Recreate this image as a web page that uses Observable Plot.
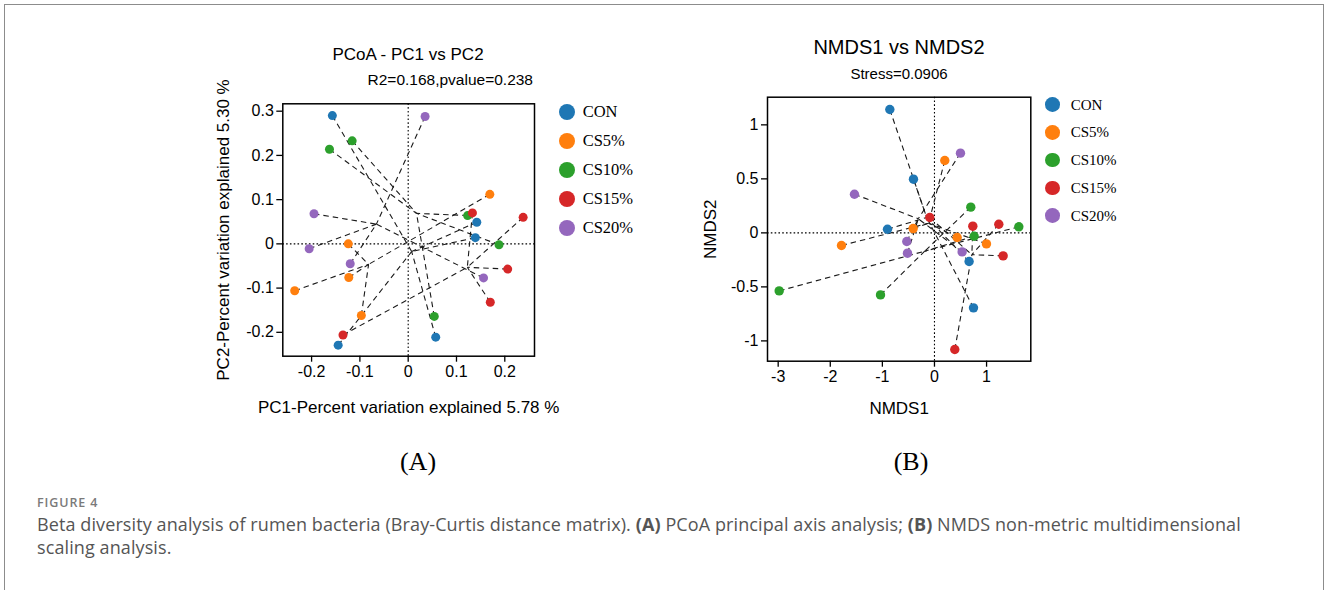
<!DOCTYPE html>
<html>
<head>
<meta charset="utf-8">
<script src="https://cdn.jsdelivr.net/npm/d3@7"></script>
<script src="https://cdn.jsdelivr.net/npm/@observablehq/plot@0.6"></script>
<style>
  html, body { margin: 0; padding: 0; background: #fff; width: 1328px; height: 590px; overflow: hidden; }
  .abs { position: absolute; white-space: nowrap; line-height: 1; }
  .c { transform: translate(-50%, -50%); }
  .sans { font-family: "Liberation Sans", Arial, sans-serif; color: #000; }
  .serif { font-family: "Liberation Serif", "Times New Roman", serif; color: #000; }
  #frameBox { position: absolute; left: 4px; top: 4px; width: 1320px; height: 800px; border: 1.5px solid #8c8c8c; box-sizing: border-box; }
  .cap { font-family: "Open Sans", "Noto Sans", sans-serif; }
</style>
</head>
<body>
<div id="frameBox"></div>
<div id="root"></div>
<script>
// ---------- data ----------
const groups = ["CON", "CS5%", "CS10%", "CS15%", "CS20%"];
const groupColors = ["#1f77b4", "#ff7f0e", "#2ca02c", "#d62728", "#9467bd"];

// PCoA (panel A)
const pcoaGroup = [
  "CON", "CON", "CON", "CON", "CON",
  "CS5%", "CS5%", "CS5%", "CS5%", "CS5%",
  "CS10%", "CS10%", "CS10%", "CS10%", "CS10%",
  "CS15%", "CS15%", "CS15%", "CS15%", "CS15%",
  "CS20%", "CS20%", "CS20%", "CS20%", "CS20%"
];
const pcoaPC1 = [
  -0.157, -0.145, 0.057, 0.142, 0.139,
  0.169, -0.124, -0.123, -0.235, -0.097,
  -0.116, -0.163, 0.123, 0.188, 0.054,
  0.133, 0.238, 0.206, 0.170, -0.135,
  0.035, -0.195, -0.205, -0.120, 0.156
];
const pcoaPC2 = [
  0.290, -0.229, -0.211, 0.049, 0.014,
  0.112, 0.000, -0.076, -0.106, -0.162,
  0.233, 0.214, 0.064, -0.002, -0.164,
  0.070, 0.060, -0.057, -0.132, -0.206,
  0.288, 0.068, -0.011, -0.045, -0.077
];
const pcoaXTicks = [-0.2, -0.1, 0, 0.1, 0.2];
const pcoaYTicks = [-0.2, -0.1, 0, 0.1, 0.2, 0.3];

// NMDS (panel B)
const nmdsGroup = pcoaGroup.slice();
const nmds1 = [
  -0.857, -0.403, -0.902, 0.665, 0.749,
  0.198, -0.409, -1.785, 0.435, 0.998,
  0.697, 1.619, 0.761, -1.036, -2.981,
  -0.090, 0.736, 1.235, 1.318, 0.390,
  0.499, -1.536, -0.531, -0.518, 0.531
];
const nmds2 = [
  1.142, 0.497, 0.034, -0.265, -0.694,
  0.670, 0.040, -0.117, -0.043, -0.102,
  0.238, 0.056, -0.031, -0.574, -0.537,
  0.142, 0.062, 0.080, -0.213, -1.080,
  0.738, 0.358, -0.080, -0.188, -0.176
];
const nmdsXTicks = [-3, -2, -1, 0, 1];
const nmdsYTicks = [-1, -0.5, 0, 0.5, 1];

// ---------- helpers ----------
function buildTable(gs, xs, ys) {
  const rows = gs.map((g, i) => ({ group: g, x: xs[i], y: ys[i] }));
  const cent = new Map(groups.map(g => {
    const sub = rows.filter(r => r.group === g);
    return [g, { cx: d3.mean(sub, r => r.x), cy: d3.mean(sub, r => r.y) }];
  }));
  rows.forEach(r => { r.cx = cent.get(r.group).cx; r.cy = cent.get(r.group).cy; });
  return rows;
}

function panel(o) {
  const data = buildTable(o.g, o.xs, o.ys);
  const fmt = d => String(d);
  return Plot.plot({
    width: o.width, height: o.height,
    marginLeft: o.ml, marginRight: o.mr, marginTop: o.mt, marginBottom: o.mb,
    x: { domain: o.xDomain, label: null },
    y: { domain: o.yDomain, label: null },
    color: { domain: groups, range: groupColors },
    style: { fontFamily: "'Liberation Sans', Arial, sans-serif", fontSize: "16px", color: "#000", background: "transparent" },
    marks: [
      Plot.ruleX([0], { stroke: "#000", strokeWidth: 1.1, strokeDasharray: "1.6,2.2" }),
      Plot.ruleY([0], { stroke: "#000", strokeWidth: 1.1, strokeDasharray: "1.6,2.2" }),
      Plot.link(data, { x1: "x", y1: "y", x2: "cx", y2: "cy", stroke: "#1a1a1a", strokeWidth: 1.1, strokeDasharray: "5.5,4" }),
      Plot.dot(data, { x: "x", y: "y", r: o.r, fill: "group", stroke: "none" }),
      Plot.frame({ stroke: "#000", strokeWidth: 1.5 }),
      Plot.axisX({ ticks: o.xTicks, tickFormat: fmt, tickSize: 6, tickPadding: 3, label: null, fontSize: 16, strokeWidth: 1.3 }),
      Plot.axisY({ ticks: o.yTicks, tickFormat: fmt, tickSize: 6, tickPadding: 3, label: null, fontSize: 16, strokeWidth: 1.3 }),
      Plot.text([o.xLabel], { text: d => d, frameAnchor: "bottom", dy: o.xLabelDy, textAnchor: "middle", lineAnchor: "middle", fontSize: 17, fill: "#000" }),
      Plot.text([o.yLabel], { text: d => d, frameAnchor: "left", dx: o.yLabelDx, rotate: -90, textAnchor: "middle", lineAnchor: "middle", fontSize: 17, fill: "#000" })
    ]
  });
}

const root = document.getElementById("root");
function place(el, left, top) {
  el.style.position = "absolute"; el.style.left = left + "px"; el.style.top = top + "px";
  root.appendChild(el);
}
function label(txt, x, y, cls, size, extra) {
  const d = document.createElement("div");
  d.className = "abs " + cls;
  d.textContent = txt;
  d.style.left = x + "px"; d.style.top = y + "px"; d.style.fontSize = size + "px";
  if (extra) Object.assign(d.style, extra);
  root.appendChild(d);
  return d;
}
function legend(cx, cy0, step, r, tx, size) {
  groups.forEach((g, i) => {
    const c = document.createElement("div");
    c.className = "abs";
    Object.assign(c.style, { left: (cx - r) + "px", top: (cy0 + i * step - r) + "px", width: 2 * r + "px", height: 2 * r + "px", borderRadius: "50%", background: groupColors[i] });
    root.appendChild(c);
    label(g, tx, cy0 + i * step, "serif", size, { transform: "translateY(-50%)" });
  });
}

// ---------- panel A ----------
const svgA = panel({
  g: pcoaGroup, xs: pcoaPC1, ys: pcoaPC2,
  width: 385, height: 350, ml: 87.3, mr: 46, mt: 33.3, mb: 64.3,
  xDomain: [-0.2596, 0.2615], yDomain: [-0.254, 0.3167],
  xTicks: pcoaXTicks, yTicks: pcoaYTicks, r: 4.5,
  xLabel: "PC1-Percent variation explained 5.78 %", xLabelDy: 51,
  yLabel: "PC2-Percent variation explained 5.30 %", yLabelDx: -59
});
place(svgA, 195, 70);
label("PCoA - PC1 vs PC2", 408, 54, "sans c", 17);
label("R2=0.168,pvalue=0.238", 533, 80, "sans", 15.5, { transform: "translate(-100%,-50%)" });
legend(566.7, 112.3, 29, 8, 582.7, 16.5);

// ---------- panel B ----------
const svgB = panel({
  g: nmdsGroup, xs: nmds1, ys: nmds2,
  width: 360, height: 335, ml: 77, mr: 19.7, mt: 11.7, mb: 59.3,
  xDomain: [-3.205, 1.849], yDomain: [-1.188, 1.256],
  xTicks: nmdsXTicks, yTicks: nmdsYTicks, r: 4.7,
  xLabel: "NMDS1", xLabelDy: 47.3,
  yLabel: "NMDS2", yLabelDx: -57
});
place(svgB, 690, 85);
label("NMDS1 vs NMDS2", 899, 47, "sans c", 20);
label("Stress=0.0906", 899, 73, "sans c", 15);
legend(1052.3, 104.7, 27.7, 7.3, 1070.7, 15);

// ---------- panel letters ----------
label("(A)", 418, 462, "serif c", 26);
label("(B)", 911, 462, "serif c", 26);

// ---------- caption ----------
label("FIGURE 4", 37, 502.5, "cap", 12.5, { transform: "translateY(-50%)", color: "#7a7a7a", fontWeight: "600", letterSpacing: "0.9px" });
const capLine1 = document.createElement("div");
capLine1.className = "abs cap";
Object.assign(capLine1.style, { left: "37px", top: "514.5px", fontSize: "18px", letterSpacing: "0.1px", color: "#555" });
capLine1.innerHTML = "Beta diversity analysis of rumen bacteria (Bray-Curtis distance matrix). <b>(A)</b> PCoA principal axis analysis; <b>(B)</b> NMDS non-metric multidimensional";
root.appendChild(capLine1);
const capLine2 = document.createElement("div");
capLine2.className = "abs cap";
Object.assign(capLine2.style, { left: "37px", top: "538px", fontSize: "18px", letterSpacing: "0.1px", color: "#555" });
capLine2.textContent = "scaling analysis.";
root.appendChild(capLine2);
</script>
</body>
</html>
